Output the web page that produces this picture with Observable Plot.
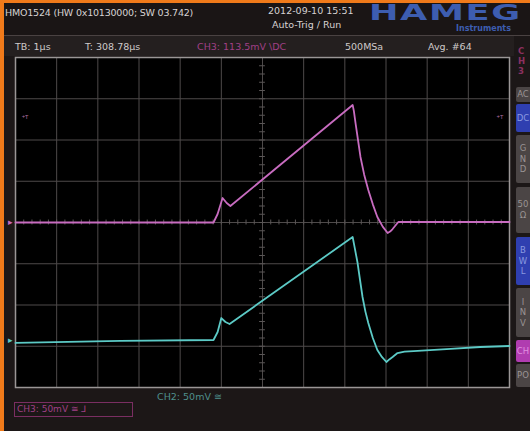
<!DOCTYPE html>
<html>
<head>
<meta charset="utf-8">
<script src="https://cdn.jsdelivr.net/npm/d3@7"></script>
<script src="https://cdn.jsdelivr.net/npm/@observablehq/plot@0.6"></script>
<style>
  html, body { margin: 0; padding: 0; background: #1c1717; }
  #scope { position: relative; width: 530px; height: 431px; background: #1c1717; overflow: hidden;
           font-family: "DejaVu Sans", sans-serif; }
  #scope svg { position: absolute; left: 0; top: 0; }
  .t { position: absolute; white-space: nowrap; font-size: 9.5px; line-height: 1; }
  .btn { position: absolute; left: 516px; width: 14px; background: #4b4545; color: #9a9494;
         font-size: 8.5px; text-align: center; line-height: 1.25; border-radius: 2px 0 0 2px; overflow: hidden; }
</style>
</head>
<body>
<div id="scope"></div>
<script>
// CH3 (magenta) trace: time in µs, voltage in mV
const ch3Time = [-6, -1.19, -1.09, -0.97, -0.87, -0.78, 2.19, 2.22, 2.26, 2.32, 2.38, 2.47, 2.57, 2.68, 2.79, 2.92, 3.04, 3.10, 3.16, 3.30, 6];
const ch3mV   = [0, 0, 10.3, 29.7, 23.6, 20.0, 142.4, 135, 120.6, 100, 79.4, 58, 39.4, 22, 6.7, -5, -12.7, -11, -7.9, 0.6, 0.6];
// CH2 (cyan) trace: time in µs, voltage in mV (shown with its own offset)
const ch2Time = [-6, -3.45, -1.19, -1.09, -1.0, -0.90, -0.80, 2.19, 2.23, 2.31, 2.37, 2.43, 2.50, 2.57, 2.68, 2.79, 2.90, 3.01, 3.08, 3.16, 3.28, 3.45, 3.67, 4.57, 5.29, 6];
const ch2mV   = [-146, -143.6, -142.4, -132.7, -115.8, -120.6, -123.0, -17.6, -28, -49.1, -70, -90.3, -108, -121.8, -140, -154.5, -163, -169.1, -166, -163.0, -158.2, -156.5, -155.8, -153.3, -150.9, -149.7];
// grid divisions: 1 µs/div horizontally, 50 mV/div vertically
const xDivs = [-6, -5, -4, -3, -2, -1, 0, 1, 2, 3, 4, 5, 6];
const yDivs = [-200, -150, -100, -50, 0, 50, 100, 150, 200];

const ch3 = ch3Time.map((t, i) => ({t, v: ch3mV[i]}));
const ch2 = ch2Time.map((t, i) => ({t, v: ch2mV[i]}));
const minorX = d3.range(-6, 6.001, 0.2);
const minorY = d3.range(-200, 200.001, 10);

const plot = Plot.plot({
  width: 530, height: 431,
  marginLeft: 15, marginRight: 21, marginTop: 57, marginBottom: 44,
  style: {background: "transparent", overflow: "visible"},
  x: {domain: [-6, 6], axis: null},
  y: {domain: [-200, 200], axis: null},
  marks: [
    Plot.frame({fill: "#000", stroke: null}),
    Plot.ruleX(xDivs, {stroke: "#4e4a4a", strokeWidth: 1}),
    Plot.ruleY(yDivs, {stroke: "#4e4a4a", strokeWidth: 1}),
    Plot.ruleX(minorX, {y1: -3, y2: 3, stroke: "#5a5656", strokeWidth: 1}),
    Plot.ruleY(minorY, {x1: -0.07, x2: 0.07, stroke: "#5a5656", strokeWidth: 1}),
    Plot.frame({stroke: "#9a9696", strokeWidth: 1.5}),
    Plot.line(ch3, {x: "t", y: "v", stroke: "#c86cc0", strokeWidth: 1.8, curve: "linear", strokeLinejoin: "round"}),
    Plot.line(ch2, {x: "t", y: "v", stroke: "#5ccac6", strokeWidth: 1.8, curve: "linear", strokeLinejoin: "round"}),
    Plot.text(["+T"], {x: -5.85, y: 128, text: d => d, fill: "#b070a0", fontSize: 6, textAnchor: "start"}),
    Plot.text(["+T"], {x: 5.85, y: 128, text: d => d, fill: "#b070a0", fontSize: 6, textAnchor: "end"}),
    Plot.text(["▸"], {x: -6, y: 0, dx: -5, text: d => d, fill: "#c86cc0", fontSize: 9}),
    Plot.text(["▸"], {x: -6, y: -143, dx: -5, text: d => d, fill: "#5ccac6", fontSize: 9})
  ]
});

const scope = document.getElementById("scope");
scope.appendChild(plot);

function addText(txt, left, top, color, size, extra) {
  const d = document.createElement("div");
  d.className = "t";
  d.textContent = txt;
  d.style.left = left + "px";
  d.style.top = top + "px";
  d.style.color = color;
  if (size) d.style.fontSize = size + "px";
  if (extra) Object.assign(d.style, extra);
  scope.appendChild(d);
  return d;
}
function addBox(left, top, w, h, bg, extra) {
  const d = document.createElement("div");
  Object.assign(d.style, {position: "absolute", left: left + "px", top: top + "px", width: w + "px", height: h + "px", background: bg}, extra || {});
  scope.appendChild(d);
  return d;
}

// orange border and header bands
addBox(0, 0, 530, 3, "#f07a1a");
addBox(0, 0, 4, 431, "#f07a1a");
addBox(4, 3, 526, 32, "#1a1515");
addBox(4, 35, 526, 1, "#4a4242");
addBox(4, 36, 510, 20, "#241f1f");

addText("HMO1524 (HW 0x10130000; SW 03.742)", 5, 8, "#d6d2d2", 9.5, {letterSpacing: "-0.2px"});
addText("2012-09-10 15:51", 268, 6, "#d6d2d2", 9.5);
addText("Auto-Trig / Run", 272, 20, "#d6d2d2", 9.5);
addText("HAMEG", 369, 3, "#3d5db0", 22, {fontWeight: "bold", lineHeight: "20px", transform: "scaleX(1.6)", transformOrigin: "left top", letterSpacing: "1px"});
addText("Instruments", 456, 25, "#3d5db0", 8, {fontWeight: "bold"});

addText("TB: 1µs", 15, 42, "#cfcaca", 9.5);
addText("T: 308.78µs", 85, 42, "#cfcaca", 9.5);
addText("CH3: 113.5mV \\DC", 197, 42, "#a04086", 9.5);
addText("500MSa", 345, 42, "#cfcaca", 9.5);
addText("Avg. #64", 428, 42, "#cfcaca", 9.5);

addText("CH2: 50mV ≅", 157, 392, "#4f8f8c", 9.5);
addBox(14, 402, 119, 15, "transparent", {border: "1px solid #7a2e62", boxSizing: "border-box"});
addText("CH3: 50mV ≅ ⅃", 17, 405, "#a04086", 9);

// right side channel menu
addText("C\nH\n3", 518, 46, "#8a3060", 8.5, {whiteSpace: "pre", lineHeight: "1.2", fontWeight: "bold"});
const buttons = [
  {label: "AC", top: 87, h: 15, bg: "#4b4545", color: "#9a9494"},
  {label: "DC", top: 104, h: 28, bg: "#2f3fb0", color: "#8a9ae0"},
  {label: "G\nN\nD", top: 135, h: 48, bg: "#4b4545", color: "#9a9494"},
  {label: "50\nΩ", top: 187, h: 46, bg: "#4b4545", color: "#9a9494"},
  {label: "B\nW\nL", top: 237, h: 48, bg: "#2f3fb0", color: "#8a9ae0"},
  {label: "I\nN\nV", top: 288, h: 49, bg: "#4b4545", color: "#9a9494"},
  {label: "CH", top: 340, h: 22, bg: "#b03cb0", color: "#e090e0"},
  {label: "PO", top: 364, h: 23, bg: "#4b4545", color: "#9a9494"}
];
for (const b of buttons) {
  const d = document.createElement("div");
  d.className = "btn";
  d.style.top = b.top + "px";
  d.style.height = b.h + "px";
  d.style.background = b.bg;
  d.style.color = b.color;
  d.style.whiteSpace = "pre";
  d.style.display = "flex";
  d.style.alignItems = "center";
  d.style.justifyContent = "center";
  d.textContent = b.label;
  scope.appendChild(d);
}
</script>
</body>
</html>
